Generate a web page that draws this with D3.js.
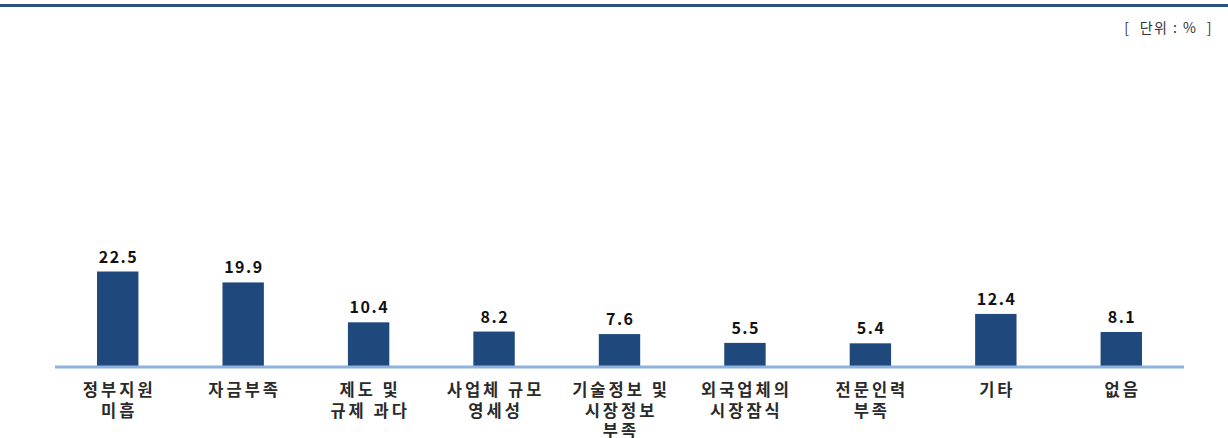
<!DOCTYPE html>
<html>
<head>
<meta charset="utf-8">
<script src="https://cdn.jsdelivr.net/npm/d3@7"></script>
<style>
  body { margin: 0; background: #fff; }
  text { font-family: "Noto Sans CJK KR", "Noto Sans", sans-serif; }
</style>
</head>
<body>
<div id="chart"></div>
<script>
// categories (line breaks as in the original labels)
const categories = [
  "정부지원\n미흡",
  "자금부족",
  "제도 및\n규제 과다",
  "사업체 규모\n영세성",
  "기술정보 및\n시장정보\n부족",
  "외국업체의\n시장잠식",
  "전문인력\n부족",
  "기타",
  "없음"
];
const values = [22.5, 19.9, 10.4, 8.2, 7.6, 5.5, 5.4, 12.4, 8.1];
const unitLabel = "[  단위 : %  ]";

function drawChart(element) {
  const width = 1228;
  const height = 438;
  const baseY = 366;

  const svg = d3.select(element)
    .append("svg")
    .attr("width", width)
    .attr("height", height);

  // top rule
  svg.append("rect")
    .attr("x", 0).attr("y", 4)
    .attr("width", width).attr("height", 3)
    .attr("fill", "#2c5282");

  svg.append("text")
    .attr("x", 1213).attr("y", 33)
    .attr("text-anchor", "end")
    .attr("font-size", 14)
    .attr("letter-spacing", 1.5)
    .attr("xml:space", "preserve")
    .style("white-space", "pre")
    .attr("fill", "#333")
    .text(unitLabel);

  const x = d3.scaleBand()
    .domain(categories)
    .range([55, 1184])
    .paddingInner(0.67)
    .paddingOuter(0.335);

  const y = d3.scaleLinear()
    .domain([0, 22.5])
    .range([baseY, 271.5]);

  const bars = svg.append("g");
  bars.selectAll("rect")
    .data(values)
    .join("rect")
    .attr("x", (d, i) => x(categories[i]))
    .attr("y", d => y(d))
    .attr("width", x.bandwidth())
    .attr("height", d => y(0) - y(d))
    .attr("fill", "#1f487c");

  bars.selectAll("text")
    .data(values)
    .join("text")
    .attr("x", (d, i) => x(categories[i]) + x.bandwidth() / 2 + 0.75)
    .attr("y", d => y(d) - 9)
    .attr("text-anchor", "middle")
    .attr("font-size", 16)
    .attr("letter-spacing", 1.5)
    .attr("font-weight", "bold")
    .attr("fill", "#111")
    .text(d => d.toFixed(1));

  // baseline
  svg.append("line")
    .attr("x1", 55).attr("x2", 1184)
    .attr("y1", baseY + 1).attr("y2", baseY + 1)
    .attr("stroke", "#8cb2dd")
    .attr("stroke-width", 3);

  const labels = svg.append("g");
  categories.forEach(c => {
    const cx = x(c) + x.bandwidth() / 2 + 1.5;
    const t = labels.append("text")
      .attr("x", cx)
      .attr("y", 396)
      .attr("text-anchor", "middle")
      .attr("font-size", 16.5)
      .attr("letter-spacing", 3)
      .attr("font-weight", "bold")
      .attr("fill", "#2a2a2a");
    c.split("\n").forEach((line, k) => {
      t.append("tspan")
        .attr("x", cx)
        .attr("dy", k === 0 ? 0 : 20.5)
        .text(line);
    });
  });
}

drawChart(document.getElementById("chart"));
</script>
</body>
</html>
